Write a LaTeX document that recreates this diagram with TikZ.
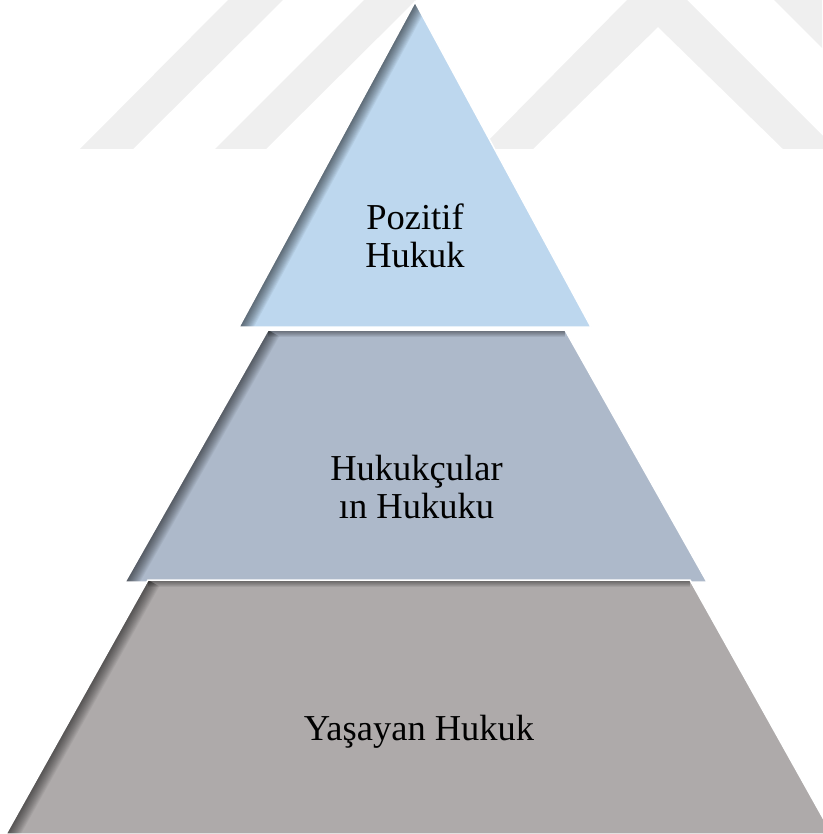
\documentclass[tikz,border=0pt]{standalone}
\usepackage{fontspec}
\setmainfont{Liberation Serif}
\definecolor{wm}{RGB}{239,239,239}
\definecolor{lvlA}{HTML}{BDD7EE}
\definecolor{lvlB}{HTML}{ADB9CA}
\definecolor{lvlC}{HTML}{AEAAAA}
\tikzset{
  lbl/.style={font=\fontsize{36.5}{38}\selectfont, align=center, inner sep=0pt, text=black},
  layeredge/.style={draw=white, line width=1.5pt, line join=miter},
}
\begin{document}
\begin{tikzpicture}[x=1pt,y=-1pt]
\useasboundingbox (0,0) rectangle (822,834);
% faint watermark chevrons
\fill[wm] (228,0) -- (283,0) -- (133,149) -- (80,149) -- cycle;
\fill[wm] (364,0) -- (416,0) -- (266,149) -- (215,149) -- cycle;
\fill[wm] (627,0) -- (687,0) -- (836,149) -- (783,149) -- (658,27) -- (533,149) -- (480,149) -- cycle;
\fill[wm] (774,0) -- (822,0) -- (822,48) -- cycle;
% level coordinates
\coordinate (a1) at (415,2);
\coordinate (a2) at (591,327);
\coordinate (a3) at (239,327);
\coordinate (b1) at (268,330);
\coordinate (b2) at (565,330);
\coordinate (b3) at (707,582);
\coordinate (b4) at (125,582);
\coordinate (c1) at (148,580);
\coordinate (c2) at (690,580);
\coordinate (c3) at (832,834);
\coordinate (c4) at (6,834);
% top level
\fill[lvlA] (a1) -- (a2) -- (a3) -- cycle;
\begin{scope}
  \clip (a1) -- (a2) -- (a3) -- cycle;
  \foreach \w in {2,4,...,26} {\draw[black, opacity=0.05, line width=\w pt] (a3) -- (a1);}
\end{scope}
\draw[layeredge] (a1) -- (a2) -- (a3) -- cycle;
% middle level
\fill[lvlB] (b1) -- (b2) -- (b3) -- (b4) -- cycle;
\begin{scope}
  \clip (b1) -- (b2) -- (b3) -- (b4) -- cycle;
  \foreach \w in {2,4,...,26} {\draw[black, opacity=0.05, line width=\w pt] (b4) -- (b1);}
  \foreach \w in {2,4,...,14} {\draw[black, opacity=0.07, line width=\w pt] (b1) -- (b2);}
\end{scope}
\draw[layeredge] (b1) -- (b2) -- (b3) -- (b4) -- cycle;
% bottom level
\fill[lvlC] (c1) -- (c2) -- (c3) -- (c4) -- cycle;
\begin{scope}
  \clip (c1) -- (c2) -- (c3) -- (c4) -- cycle;
  \foreach \w in {2,4,...,26} {\draw[black, opacity=0.05, line width=\w pt] (c4) -- (c1);}
  \foreach \w in {2,4,...,14} {\draw[black, opacity=0.07, line width=\w pt] (c1) -- (c2);}
\end{scope}
\draw[layeredge] (c1) -- (c2) -- (c3) -- (c4) -- cycle;
% labels
\node[lbl] (tA) at (415,236) {Pozitif\\Hukuk};
\node[lbl] (tB) at (416.5,487) {Hukukçular\\ın Hukuku};
\node[lbl, anchor=base] (tC) at (419,740) {Yaşayan Hukuk};
\end{tikzpicture}
\end{document}
